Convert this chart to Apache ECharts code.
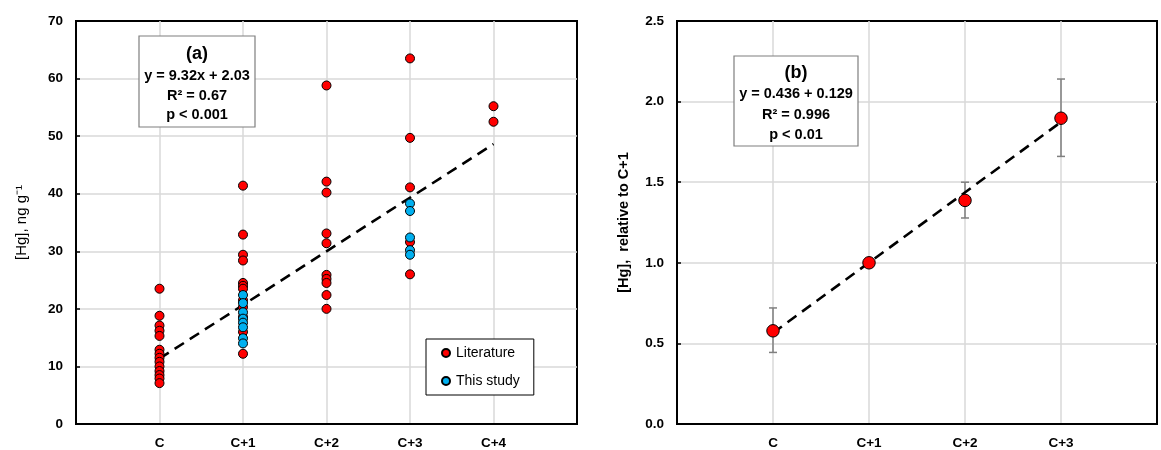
<!DOCTYPE html>
<html><head><meta charset="utf-8">
<script src="https://cdn.jsdelivr.net/npm/echarts@6/dist/echarts.min.js"></script>
<style>html,body{margin:0;padding:0;background:#fff}#c{width:1161px;height:450px}</style>
</head><body><div id="c"></div>
<script>
// ---- Panel (a) data ----
const categoriesA = ['C', 'C+1', 'C+2', 'C+3', 'C+4'];
const literatureC  = [23.5, 18.8, 17.1, 16.2, 15.3, 12.9, 12.2, 11.5, 10.8, 10.0, 9.2, 8.5, 7.9, 7.1];
const literatureC1 = [41.4, 32.9, 29.4, 28.4, 24.5, 24.0, 23.5, 21.5, 20.3, 18.6, 16.0, 12.2];
const literatureC2 = [58.8, 42.1, 40.2, 33.1, 31.4, 25.9, 25.2, 24.5, 22.4, 20.0];
const literatureC3 = [63.5, 49.7, 41.1, 31.6, 26.0];
const literatureC4 = [55.2, 52.5];
const studyC1 = [22.4, 21.0, 19.4, 18.3, 17.6, 16.8, 14.9, 14.0];
const studyC3 = [38.3, 37.0, 32.4, 30.2, 29.4];
const trendA = [[1, 11.35], [5, 48.63]];
const yTicksA = [0, 10, 20, 30, 40, 50, 60, 70];

// ---- Panel (b) data ----
const categoriesB = ['C', 'C+1', 'C+2', 'C+3'];
const relMean = [0.578, 1.0, 1.387, 1.897];
const relLow  = [0.444, null, 1.278, 1.66];
const relHigh = [0.72, null, 1.50, 2.14];
const trendB = [[1, 0.565], [4, 1.873]];
const yTicksB = [0, 0.5, 1.0, 1.5, 2.0, 2.5];

const literatureA = [literatureC, literatureC1, literatureC2, literatureC3, literatureC4];
const studyA = [[], studyC1, [], studyC3, []];
const toPts = groups => groups.flatMap((g, i) => g.map(v => [i + 1, v]));

const FONT = '"Liberation Sans", Arial, sans-serif';
const chart = echarts.init(document.getElementById('c'));

const errData = relMean.map((m, i) => [i + 1, relLow[i], relHigh[i]]).filter(d => d[1] != null);

const splitLineStyle = { show: true, showMinLine: false, showMaxLine: false, lineStyle: { color: '#d9d9d9', width: 1.5 } };
const labelStyle = { color: '#000', fontWeight: 'bold', fontSize: 13.5, fontFamily: FONT };

const axisCommonY = {
  type: 'value',
  axisLine: { show: true, lineStyle: { color: '#000', width: 2 } },
  axisTick: { show: true, inside: true, length: 4, lineStyle: { color: '#000', width: 1.5 } },
  splitLine: splitLineStyle,
  axisLabel: Object.assign({ margin: 13 }, labelStyle),
  nameLocation: 'middle'
};
const axisCommonX = {
  type: 'value',
  interval: 1,
  axisLine: { show: true, lineStyle: { color: '#000', width: 2 } },
  axisTick: { show: false },
  splitLine: splitLineStyle
};

function boxGraphic(x, y, w, h, title, lines, titleY, lineY, lineGap) {
  const children = [
    { type: 'rect', z: 100, shape: { x: 0, y: 0, width: w, height: h }, style: { fill: '#ffffff', stroke: '#7f7f7f', lineWidth: 1.2 } },
    { type: 'text', z: 101, x: w / 2, y: titleY, style: { text: title, fill: '#000', font: 'bold 18px ' + FONT, align: 'center', verticalAlign: 'middle' } }
  ];
  lines.forEach((t, i) => children.push({
    type: 'text', z: 101, x: w / 2, y: lineY + i * lineGap,
    style: { text: t, fill: '#000', font: 'bold 14.5px ' + FONT, align: 'center', verticalAlign: 'middle' }
  }));
  return { type: 'group', x: x, y: y, z: 100, children: children };
}

chart.setOption({
  animation: false,
  backgroundColor: '#fff',
  textStyle: { fontFamily: FONT },
  grid: [
    { left: 76, top: 21, width: 501, height: 406, show: true, borderColor: '#000', borderWidth: 2 },
    { left: 677, top: 21, width: 480, height: 405, show: true, borderColor: '#000', borderWidth: 2 }
  ],
  xAxis: [
    Object.assign({}, axisCommonX, { gridIndex: 0, min: 0, max: 6,
      axisLabel: Object.assign({ margin: 12,
        formatter: v => (v >= 1 && v <= categoriesA.length) ? categoriesA[v - 1] : '' }, labelStyle) }),
    Object.assign({}, axisCommonX, { gridIndex: 1, min: 0, max: 5,
      axisLabel: Object.assign({ margin: 12,
        formatter: v => (v >= 1 && v <= categoriesB.length) ? categoriesB[v - 1] : '' }, labelStyle) })
  ],
  yAxis: [
    Object.assign({}, axisCommonY, { gridIndex: 0, min: yTicksA[0], max: yTicksA[yTicksA.length - 1], interval: 10,
      name: '[Hg], ng g⁻¹', nameGap: 47,
      nameTextStyle: { color: '#000', fontSize: 15, fontFamily: FONT } }),
    Object.assign({}, axisCommonY, { gridIndex: 1, min: yTicksB[0], max: yTicksB[yTicksB.length - 1], interval: 0.5,
      axisLabel: Object.assign({}, axisCommonY.axisLabel, { formatter: v => v.toFixed(1) }),
      name: '[Hg],  relative to C+1', nameGap: 46,
      nameTextStyle: { color: '#000', fontSize: 14.5, fontWeight: 'bold', fontFamily: FONT } })
  ],
  legend: {
    data: ['Literature', 'This study'],
    orient: 'vertical',
    left: 426, top: 339,
    borderColor: '#000', borderWidth: 1,
    padding: [7, 14, 7, 15],
    itemGap: 14, itemWidth: 8, itemHeight: 8,
    icon: 'circle',
    textStyle: { color: '#000', fontSize: 14, fontFamily: FONT, padding: [0, 0, 0, 1] },
    backgroundColor: '#fff'
  },
  graphic: [
    boxGraphic(139, 36, 116, 91, '(a)', ['y = 9.32x + 2.03', 'R² = 0.67', 'p < 0.001'], 18, 40, 19.5),
    boxGraphic(734, 56, 124, 90, '(b)', ['y = 0.436 + 0.129', 'R² = 0.996', 'p < 0.01'], 17, 38, 20.5)
  ],
  series: [
    { type: 'line', xAxisIndex: 0, yAxisIndex: 0, data: trendA, symbol: 'none', silent: true, z: 3,
      lineStyle: { color: '#000', width: 2.6, type: [11, 7] } },
    { name: 'Literature', type: 'scatter', xAxisIndex: 0, yAxisIndex: 0, data: toPts(literatureA),
      symbolSize: 9, z: 4, itemStyle: { color: '#ff0000', borderColor: '#000', borderWidth: 1, opacity: 1 } },
    { name: 'This study', type: 'scatter', xAxisIndex: 0, yAxisIndex: 0, data: toPts(studyA),
      symbolSize: 9, z: 5, itemStyle: { color: '#00b0f0', borderColor: '#000', borderWidth: 1, opacity: 1 } },
    { type: 'custom', xAxisIndex: 1, yAxisIndex: 1, data: errData, z: 2, silent: true,
      renderItem: (params, api) => {
        const lo = api.coord([api.value(0), api.value(1)]);
        const hi = api.coord([api.value(0), api.value(2)]);
        const st = { stroke: '#7f7f7f', lineWidth: 1.5 };
        return { type: 'group', children: [
          { type: 'line', shape: { x1: lo[0], y1: lo[1], x2: hi[0], y2: hi[1] }, style: st },
          { type: 'line', shape: { x1: lo[0] - 4, y1: lo[1], x2: lo[0] + 4, y2: lo[1] }, style: st },
          { type: 'line', shape: { x1: hi[0] - 4, y1: hi[1], x2: hi[0] + 4, y2: hi[1] }, style: st }
        ] };
      } },
    { type: 'line', xAxisIndex: 1, yAxisIndex: 1, data: trendB, symbol: 'none', silent: true, z: 3,
      lineStyle: { color: '#000', width: 2.6, type: [11, 7] } },
    { name: 'Relative', type: 'scatter', xAxisIndex: 1, yAxisIndex: 1, data: relMean.map((v, i) => [i + 1, v]),
      symbolSize: 12.5, z: 4, itemStyle: { color: '#ff0000', borderColor: '#000', borderWidth: 1, opacity: 1 } }
  ]
});
</script></body></html>
